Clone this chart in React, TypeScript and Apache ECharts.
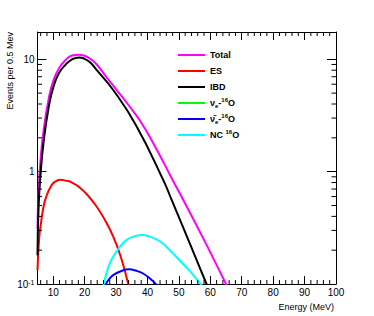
import React, { useEffect, useRef } from "react";
import * as echarts from "echarts";

const FONT = "'Liberation Sans', Arial, Helvetica, sans-serif";

const X_MIN = 5;
const X_MAX = 100;
const Y_MIN = 0.1;
const Y_MAX = 17.5;

const xTickLabels = [10, 20, 30, 40, 50, 60, 70, 80, 90, 100];
const yTickLabels = [0.1, 1, 10];

const seriesNames = ["Total", "ES", "IBD", "νe-16O", "ν̄e-16O", "NC 16O"];
const seriesColors = ["#ff00ff", "#ff0000", "#000000", "#00ff00", "#0000ff", "#00ffff"];

const totalData = [
  [5, 0.31], [5.35, 0.69], [6, 1.3], [7, 2.4], [8.6, 4.5], [10, 6.4], [11.8, 8.3], [14, 9.9],
  [16, 10.8], [18.2, 11.0], [20, 10.75], [22, 10.0], [24, 8.9], [27, 6.9], [30.2, 5.33],
  [34, 3.9], [37.6, 2.85], [42.5, 1.66], [48, 0.844], [51.4, 0.56], [58, 0.247],
  [65, 0.1], [66, 0.088],
];
const esData = [
  [5, 0.133], [5.5, 0.25], [6, 0.33], [7, 0.5], [8, 0.62], [9.2, 0.735], [10.5, 0.81], [12.3, 0.845],
  [14, 0.832], [16, 0.8], [18.5, 0.72], [21, 0.615], [23.8, 0.49], [26.5, 0.37], [29.1, 0.264],
  [31.5, 0.175], [33.9, 0.1], [35, 0.078],
];
const ibdData = [
  [5, 0.18], [5.35, 0.49], [6, 0.97], [7, 1.9], [8.6, 3.8], [10, 5.6], [11.8, 7.5], [14, 9.0],
  [16, 10.0], [18.2, 10.4], [20, 10.1], [21.8, 9.35], [23.8, 8.04], [29.1, 5.33], [36.3, 2.6],
  [45, 0.844], [47.7, 0.56], [53, 0.247], [58.8, 0.1], [60, 0.085],
];
const nueOData = [
  [30, 0.03], [35, 0.05], [40, 0.07], [45, 0.085], [50, 0.09], [55, 0.08], [60, 0.06], [65, 0.04], [70, 0.02],
];
const nuebarOData = [
  [26.4, 0.093], [26.8, 0.1], [28, 0.112], [29.1, 0.12], [31.5, 0.13], [34.1, 0.135], [36.5, 0.131],
  [38.6, 0.124], [40.8, 0.112], [42.6, 0.1], [43, 0.097],
];
const ncData = [
  [25.6, 0.085], [26.1, 0.1], [27.5, 0.14], [29.1, 0.175], [31, 0.21], [33.4, 0.247], [36, 0.267],
  [38.3, 0.273], [40.8, 0.264], [43, 0.248], [45, 0.228], [47.1, 0.2], [50.3, 0.162], [53.5, 0.13],
  [56.9, 0.1], [57.5, 0.094],
];
const allData = [totalData, esData, ibdData, nueOData, nuebarOData, ncData];

const xMinorTicks: number[] = [];
for (let e = 6; e < X_MAX; e += 2) if (e % 10 !== 0) xMinorTicks.push(e);
const yMinorTicks = [0.2, 0.3, 0.4, 0.5, 0.6, 0.7, 0.8, 0.9, 2, 3, 4, 5, 6, 7, 8, 9];

const legendRich: Record<string, string> = {
  "Total": "Total",
  "ES": "ES",
  "IBD": "IBD",
  "νe-16O": "{n|ν}{sb|e}{b|-}{sp|16}{b|O}",
  "ν̄e-16O": "{n|ν̄}{sb|e}{b|-}{sp|16}{b|O}",
  "NC 16O": "NC {sp|16}{b|O}",
};

export default function App() {
  const ref = useRef<HTMLDivElement>(null);
  useEffect(() => {
    if (!ref.current) return;
    const chart = echarts.init(ref.current, null, { renderer: "svg" });
    const tickStyle = { color: "#000", width: 1 };
    const lineSeries = seriesNames.map((name, i) => ({
      name,
      type: "line",
      data: allData[i],
      showSymbol: false,
      symbol: "none",
      smooth: 0.5,
      clip: true,
      lineStyle: { color: seriesColors[i], width: 2 },
      itemStyle: { color: seriesColors[i] },
      z: 2,
    }));
    const xAxisBase = {
      type: "value",
      min: X_MIN,
      max: X_MAX,
      axisLine: { show: true, onZero: false, lineStyle: tickStyle },
      axisTick: { show: true, inside: true, length: 8, lineStyle: tickStyle, customValues: xTickLabels },
      splitLine: { show: false },
    };
    const yAxisBase = {
      type: "log",
      logBase: 10,
      min: Y_MIN,
      max: Y_MAX,
      axisLine: { show: true, onZero: false, lineStyle: tickStyle },
      axisTick: { show: true, inside: true, length: 9, lineStyle: tickStyle, customValues: yTickLabels },
      splitLine: { show: false },
    };
    const option: any = {
      animation: false,
      backgroundColor: "#fff",
      grid: { left: 37.5, right: 38, top: 32, bottom: 32, containLabel: false },
      textStyle: { fontFamily: FONT },
      legend: {
        data: seriesNames,
        orient: "vertical",
        left: 173,
        top: 44,
        itemWidth: 27,
        itemHeight: 2,
        itemGap: 4,
        icon: "rect",
        selectedMode: false,
        formatter: (name: string) => legendRich[name] ?? name,
        textStyle: {
          fontFamily: FONT,
          fontSize: 9,
          fontWeight: "bold",
          color: "#000",
          lineHeight: 12,
          rich: {
            n: { fontFamily: FONT, fontSize: 9, color: "#000", lineHeight: 12 },
            b: { fontFamily: FONT, fontSize: 9, fontWeight: "bold", color: "#000", lineHeight: 12 },
            sb: { fontFamily: FONT, fontSize: 6, fontWeight: "bold", color: "#000", lineHeight: 6, verticalAlign: "bottom" },
            sp: { fontFamily: FONT, fontSize: 6, fontWeight: "bold", color: "#000", lineHeight: 6, verticalAlign: "top" },
          },
        },
      },
      xAxis: [
        {
          ...xAxisBase,
          position: "bottom",
          axisLabel: {
            margin: 3,
            fontSize: 10,
            color: "#000",
            fontFamily: FONT,
            customValues: xTickLabels,
          },
        },
        { ...xAxisBase, position: "top", axisLabel: { show: false } },
      ],
      yAxis: [
        {
          ...yAxisBase,
          position: "left",
          axisLabel: {
            margin: 3,
            fontSize: 10,
            color: "#000",
            fontFamily: FONT,
            customValues: yTickLabels,
            formatter: (v: number) => {
              if (Math.abs(v - 0.1) < 1e-6) return "10{sup|-1}";
              if (Math.abs(v - 1) < 1e-6) return "1";
              if (Math.abs(v - 10) < 1e-6) return "10";
              return "";
            },
            rich: {
              sup: { fontSize: 7, verticalAlign: "top", lineHeight: 8, fontFamily: FONT, color: "#000" },
            },
          },
        },
        { ...yAxisBase, position: "right", axisLabel: { show: false } },
      ],
      graphic: [
        {
          type: "text",
          x: 10,
          y: 32,
          rotation: Math.PI / 2,
          style: {
            text: "Events per 0.5 Mev",
            align: "right",
            verticalAlign: "middle",
            fontFamily: FONT,
            fontSize: 9,
            fill: "#000",
          },
        },
        {
          type: "text",
          x: 334,
          y: 307,
          style: {
            text: "Energy (MeV)",
            align: "right",
            verticalAlign: "middle",
            fontFamily: FONT,
            fontSize: 9,
            fill: "#000",
          },
        },
      ],
      series: [
        ...lineSeries,
        {
          type: "custom",
          name: "xminor",
          coordinateSystem: "cartesian2d",
          data: xMinorTicks.map((e) => [e, Y_MIN]),
          silent: true,
          z: 5,
          renderItem: (_p: any, api: any) => {
            const e = api.value(0);
            const b = api.coord([e, Y_MIN]);
            const t = api.coord([e, Y_MAX]);
            return {
              type: "group",
              children: [
                { type: "line", shape: { x1: b[0], y1: b[1], x2: b[0], y2: b[1] - 4 }, style: { stroke: "#000", lineWidth: 1 } },
                { type: "line", shape: { x1: t[0], y1: t[1], x2: t[0], y2: t[1] + 4 }, style: { stroke: "#000", lineWidth: 1 } },
              ],
            };
          },
        },
        {
          type: "custom",
          name: "yminor",
          coordinateSystem: "cartesian2d",
          data: yMinorTicks.map((v) => [X_MIN, v]),
          silent: true,
          z: 5,
          renderItem: (_p: any, api: any) => {
            const v = api.value(1);
            const l = api.coord([X_MIN, v]);
            const r = api.coord([X_MAX, v]);
            return {
              type: "group",
              children: [
                { type: "line", shape: { x1: l[0], y1: l[1], x2: l[0] + 4.5, y2: l[1] }, style: { stroke: "#000", lineWidth: 1 } },
                { type: "line", shape: { x1: r[0], y1: r[1], x2: r[0] - 4.5, y2: r[1] }, style: { stroke: "#000", lineWidth: 1 } },
              ],
            };
          },
        },
      ],
    };
    chart.setOption(option);
    return () => chart.dispose();
  }, []);
  return (
    <div
      ref={ref}
      style={{ position: "fixed", left: 0, top: 0, width: 374, height: 316, background: "#fff" }}
    />
  );
}
